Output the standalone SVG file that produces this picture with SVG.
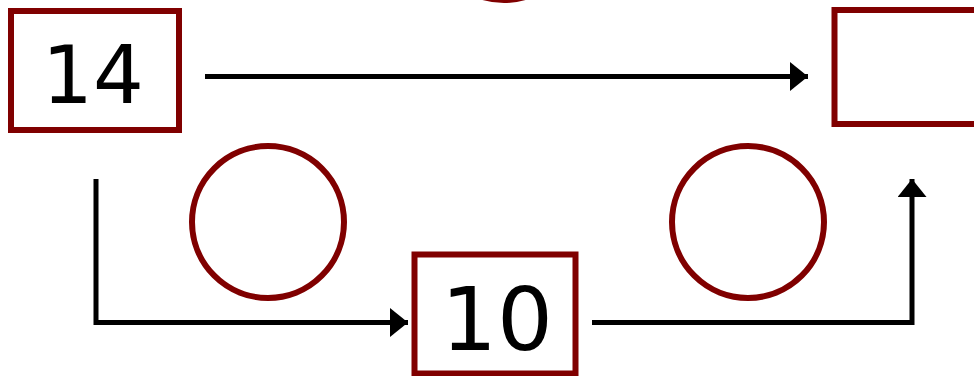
<svg xmlns="http://www.w3.org/2000/svg" width="974" height="376" viewBox="0 0 974 376">
  <style>
    .node { fill: #ffffff; stroke: #800000; stroke-width: 6; }
    .lbl { font-family: "DejaVu Sans", Verdana, sans-serif; fill: #000000; text-anchor: middle; }
    .edge { fill: none; stroke: #000000; stroke-width: 5; }
  </style>
  <defs>
    <marker id="arrow" viewBox="0 0 18 29" refX="18" refY="14.5" markerWidth="18" markerHeight="29" markerUnits="userSpaceOnUse" orient="auto">
      <path d="M0,0 L18,14.5 L0,29 Z" fill="#000000"/>
    </marker>
  </defs>
  <rect width="974" height="376" fill="#ffffff"/>
  <g id="circle-top"><circle class="node" cx="504" cy="-76" r="76"/></g>
  <g id="circle-left"><circle class="node" cx="268" cy="222" r="76"/></g>
  <g id="circle-right"><circle class="node" cx="748" cy="222" r="76"/></g>
  <g id="node-14">
    <rect class="node" x="11" y="11" width="168" height="119"/>
    <text class="lbl" x="93" y="102.5" font-size="80">14</text>
  </g>
  <g id="node-right">
    <rect class="node" x="834.5" y="10" width="168" height="114"/>
  </g>
  <g id="node-10">
    <rect class="node" x="414.5" y="254.5" width="161" height="119"/>
    <text class="lbl" x="497" y="350" font-size="88">10</text>
  </g>
  <g id="connectors">
    <path class="edge" d="M205,76.5 L808,76.5" marker-end="url(#arrow)"/>
    <path class="edge" d="M96,179 L96,322.5 L408,322.5" marker-end="url(#arrow)"/>
    <path class="edge" d="M592,322.5 L912,322.5 L912,179" marker-end="url(#arrow)"/>
  </g>
</svg>
